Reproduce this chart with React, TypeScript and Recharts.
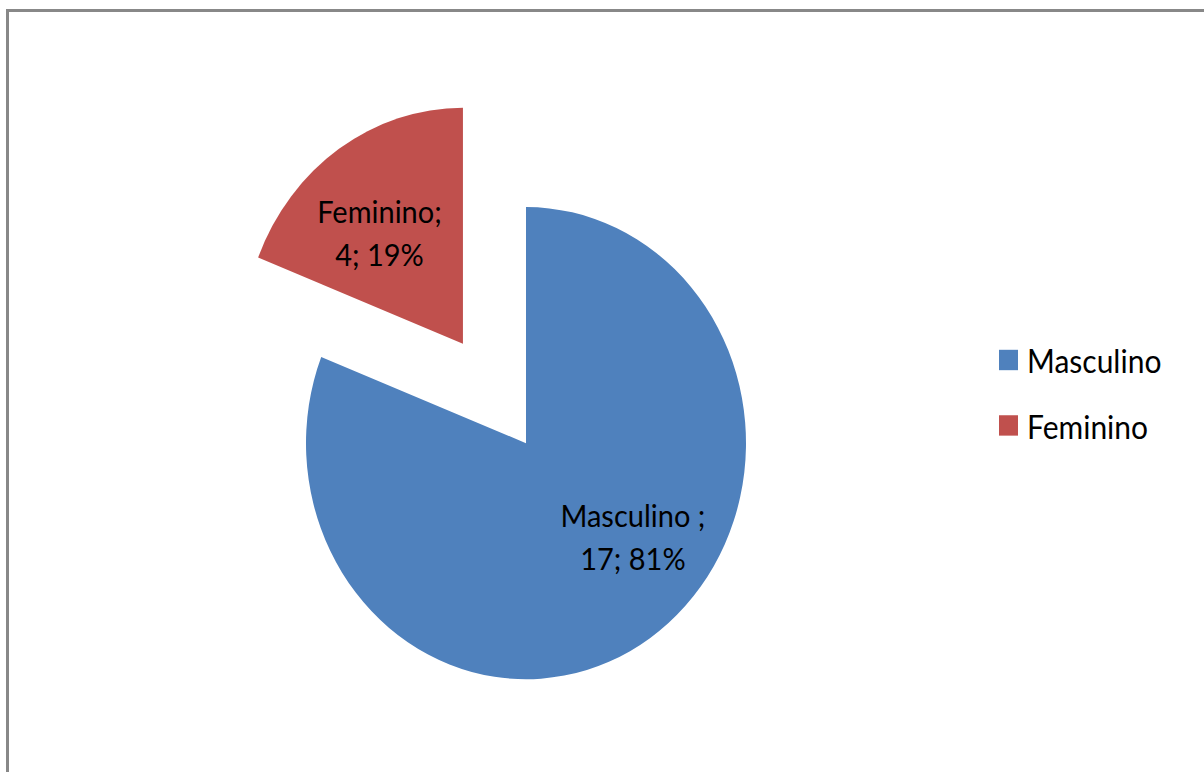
import { PieChart, Pie, Legend } from 'recharts';

// categories as exported from the spreadsheet (note the trailing space)
const categories = ['Masculino ', 'Feminino'];
const counts = [17, 4];
const colors = ['#4F81BD', '#C0504D'];

const total = counts.reduce((a, b) => a + b, 0);
const pct = counts.map((c) => Math.round((c / total) * 100));

// geometry (unscaled chart coords)
const CX = 526;
const CY = 413;
const R = 220;
const EXPLODE = 112;
const STRETCH_Y = 1.073;
const FONT = 'Lato, "Open Sans", sans-serif';

const splitAngle = 90 - (360 * counts[0]) / total;
const femMid = ((splitAngle + -270) / 2) * (Math.PI / 180);
const femCx = CX + EXPLODE * Math.cos(femMid);
const femCy = CY - EXPLODE * Math.sin(femMid);

const mascData = [{ name: categories[0], value: counts[0] }];
const femData = [{ name: categories[1], value: counts[1] }];

// label offsets (fraction of radius) relative to each slice's centre
const labelOffset = [
  { dx: 0.486, dy: 0.355 },
  { dx: -0.379, dy: -0.512 },
];

function makeLabel(i: number) {
  return (props: any) => {
    const { cx, cy, outerRadius } = props;
    const x = cx + outerRadius * labelOffset[i].dx;
    const y = cy + outerRadius * labelOffset[i].dy;
    return (
      <text x={x} y={y} textAnchor="middle" fill="#000" fontSize={29} fontFamily={FONT}>
        <tspan x={x}>{categories[i]};</tspan>
        <tspan x={x} dy={40}>
          {counts[i]}; {pct[i]}%
        </tspan>
      </text>
    );
  };
}

function renderLegend(props: any) {
  const items = [...(props.payload || [])].sort(
    (a: any, b: any) => categories.indexOf(a.value) - categories.indexOf(b.value)
  );
  return (
    <div style={{ fontFamily: FONT, fontSize: 30, color: '#000' }}>
      {items.map((entry: any, i: number) => (
        <div key={i} style={{ display: 'flex', alignItems: 'center', height: 61 }}>
          <span
            style={{
              display: 'inline-block',
              width: 19,
              height: 19,
              background: entry.color,
              marginRight: 9,
            }}
          />
          <span>{String(entry.value).trim()}</span>
        </div>
      ))}
    </div>
  );
}

export default function App() {
  return (
    <div
      style={{
        position: 'absolute',
        left: 0,
        top: 0,
        width: 1204,
        height: 772,
        overflow: 'hidden',
        background: '#fff',
      }}
    >
      <div
        style={{
          position: 'absolute',
          left: 6,
          top: 9,
          width: 1400,
          height: 900,
          border: '3px solid #888',
        }}
      />
      <div
        style={{
          position: 'absolute',
          left: 0,
          top: 0,
          transform: `scaleY(${STRETCH_Y})`,
          transformOrigin: '0 0',
        }}
      >
        <PieChart width={1204} height={720} margin={{ top: 0, right: 0, bottom: 0, left: 0 }}>
          <Pie
            data={mascData}
            dataKey="value"
            nameKey="name"
            cx={CX}
            cy={CY}
            outerRadius={R}
            startAngle={90}
            endAngle={splitAngle}
            fill={colors[0]}
            stroke="none"
            label={makeLabel(0)}
            labelLine={false}
            isAnimationActive={false}
          />
          <Pie
            data={femData}
            dataKey="value"
            nameKey="name"
            cx={femCx}
            cy={femCy}
            outerRadius={R}
            startAngle={splitAngle}
            endAngle={-270}
            fill={colors[1]}
            stroke="none"
            label={makeLabel(1)}
            labelLine={false}
            isAnimationActive={false}
          />
          <Legend
            layout="vertical"
            content={renderLegend}
            wrapperStyle={{ position: 'absolute', left: 999, top: 305, width: 200 }}
          />
        </PieChart>
      </div>
    </div>
  );
}
